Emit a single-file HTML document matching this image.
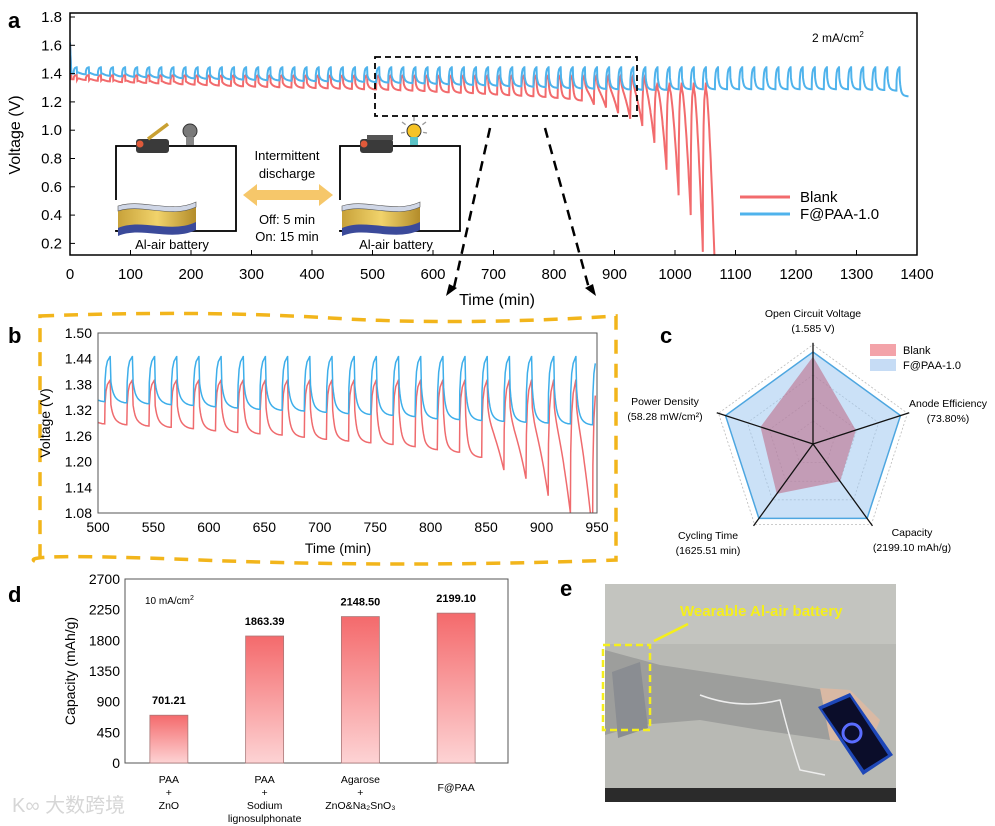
<!DOCTYPE html>
<html><head><meta charset="utf-8"><style>
body{margin:0;background:#fff}
svg{display:block;font-family:"Liberation Sans",Arial,sans-serif}
</style></head><body>
<svg id="fig" width="995" height="826" viewBox="0 0 995 826" xmlns="http://www.w3.org/2000/svg">
<rect width="995" height="826" fill="#fff"/>
<g id="pa"></g>
<g id="pb"></g>
<g id="pc"></g>
<g id="pd"></g>
<g id="pe"></g>
<defs>
<linearGradient id="barg" x1="0" y1="0" x2="0" y2="1"><stop offset="0" stop-color="#f46a6c"/><stop offset="1" stop-color="#fdd3d4"/></linearGradient>
<linearGradient id="batg" x1="0" y1="0" x2="1" y2="0"><stop offset="0" stop-color="#c8a23a"/><stop offset="0.5" stop-color="#f1d36b"/><stop offset="1" stop-color="#b38c2a"/></linearGradient>
</defs>
</svg>
<script>
// ---- Panel a/b data: per-cycle voltage at end of each 15-min discharge (20-min cycles) ----
const blueMin = [1.40,1.395,1.39,1.385,1.38,1.378,1.375,1.372,1.37,1.368,
1.366,1.364,1.362,1.36,1.358,1.356,1.354,1.352,1.35,1.348,
1.347,1.346,1.345,1.344,1.342,1.34,1.337,1.335,1.333,1.331,
1.328,1.325,1.322,1.32,1.318,1.315,1.312,1.31,1.308,1.305,
1.30,1.298,1.296,1.294,1.292,1.29,1.288,1.286,1.285,1.285,
1.29,1.29,1.29,1.29,1.29,1.29,1.29,1.29,1.29,1.29,
1.29,1.29,1.29,1.29,1.29,1.288,1.286,1.284,1.28,1.24];
const redMin = [1.36,1.355,1.35,1.345,1.34,1.337,1.334,1.331,1.328,1.325,
1.322,1.319,1.316,1.313,1.31,1.308,1.306,1.304,1.302,1.30,
1.298,1.296,1.294,1.292,1.29,1.288,1.286,1.283,1.28,1.277,
1.272,1.268,1.265,1.262,1.257,1.252,1.248,1.244,1.24,1.235,
1.228,1.222,1.21,1.18,1.16,1.12,1.08,1.03,0.91,0.72,
0.54,0.40,0.14,0.0];
const bluePeak = [1.445];
const redPeak = [1.39];
const aXTicks = [0,100,200,300,400,500,600,700,800,900,1000,1100,1200,1300,1400];
const aYTicks = [0.2,0.4,0.6,0.8,1.0,1.2,1.4,1.6,1.8];
const bXTicks = [500,550,600,650,700,750,800,850,900,950];
const bYTicks = [1.08,1.14,1.20,1.26,1.32,1.38,1.44,1.50];
// ---- Panel c data ----
const radarAxes = ["Open Circuit Voltage","Anode Efficiency","Capacity","Cycling Time","Power Density"];
const radarBlank = [0.95,0.49,0.50,0.67,0.60];
const radarFPAA = [1,1,1,1,1];
// ---- Panel d data ----
const capCats = ["PAA+ZnO","PAA+Sodium lignosulphonate","Agarose+ZnO&Na2SnO3","F@PAA"];
const capVals = [701.21,1863.39,2148.50,2199.10];
const dYTicks = [0,450,900,1350,1800,2250,2700];

const NS="http://www.w3.org/2000/svg";
function mk(parent,tag,attrs,text){const e=document.createElementNS(NS,tag);for(const k in attrs)e.setAttribute(k,attrs[k]);if(text!==undefined)e.textContent=text;parent.appendChild(e);return e;}

const PH=-9; // discharge of cycle k starts at 20k+PH
function pkOf(m,p){return m<1.0?Math.min(p,1.33):p;}
function cyclePath(mins,peak0,t0,t1,sx,sy,clipLo){
  let pts=[[0,1.62],[1.5,1.47]];
  for(let k=0;k<mins.length;k++){
    const c=k*20+PH; const m=mins[k];
    const deep = m<1.2;
    const s = deep ? 1.29 : m+0.022;
    const pk = k>0 ? pkOf(mins[k-1],peak0) : 1.47;
    const n=24;
    for(let i=0;i<=n;i++){
      const f=i/n; const tt=c+15*f;
      if(tt<2)continue;
      const base = deep ? s+(m-s)*Math.pow(f,1.5) : s+(m-s)*(1-Math.pow(1-f,2));
      const v = i===0 ? pk : base+(pk-0.045-base)*Math.exp(-(15*f)/1.6);
      pts.push([tt,v]);
    }
    if(k<mins.length-1){
      const nk=pkOf(m,peak0);
      pts.push([c+15.3,m+(nk-m)*0.45]);
      pts.push([c+16.2,m+(nk-m)*0.75]);
      pts.push([c+17.5,m+(nk-m)*0.9]);
      pts.push([c+19.9,nk]);
    }
  }
  pts=pts.filter(p=>p[0]>=t0-0.01&&p[0]<=t1+0.01);
  return pts.map((p,i)=>(i?'L':'M')+sx(p[0]).toFixed(1)+','+sy(Math.max(p[1],clipLo)).toFixed(1)).join('');
}

// ================= Panel A =================
(function(){
const g=document.getElementById('pa');
const X0=70,X1=917,Y0=13,Y1=255;
const sx=t=>X0+(t-0)/1400*(X1-X0);
const sy=v=>17+(1.8-v)*141.5;
mk(g,'text',{x:8,y:28,'font-size':22,'font-weight':'bold',},'a');
const clip=mk(g,'clipPath',{id:'clipA'});mk(clip,'rect',{x:X0,y:Y0,width:X1-X0,height:Y1-Y0});
const lines=mk(g,'g',{'clip-path':'url(#clipA)'});
mk(lines,'path',{d:cyclePath(redMin,redPeak[0],0,1080,sx,sy,-0.2),fill:'none',stroke:'#f26b6d','stroke-width':2,});
mk(lines,'path',{d:cyclePath(blueMin,bluePeak[0],0,1400,sx,sy,0),fill:'none',stroke:'#4fb3ec','stroke-width':2,});
mk(g,'rect',{x:X0,y:Y0,width:X1-X0,height:Y1-Y0,fill:'none',stroke:'#000','stroke-width':1.5,});
aXTicks.forEach(t=>{mk(g,'line',{x1:sx(t),x2:sx(t),y1:Y1,y2:Y1-5,stroke:'#000'});mk(g,'text',{x:sx(t),y:279,'font-size':15,'text-anchor':'middle',},t);});
aYTicks.forEach(v=>{mk(g,'line',{x1:X0,x2:X0+5,y1:sy(v),y2:sy(v),stroke:'#000'});mk(g,'text',{x:62,y:sy(v)+5,'font-size':15,'text-anchor':'end',},v.toFixed(1));});
mk(g,'text',{x:497,y:305,'font-size':16,'text-anchor':'middle',},'Time (min)');
mk(g,'text',{x:20,y:135,'font-size':16,'text-anchor':'middle',transform:'rotate(-90 20 135)',},'Voltage (V)');
const cd=mk(g,'text',{x:812,y:42,'font-size':12,},'2 mA/cm');
mk(cd,'tspan',{dy:-5,'font-size':8},'2');
mk(g,'rect',{x:375,y:57,width:262,height:59,fill:'none',stroke:'#000','stroke-width':1.8,'stroke-dasharray':'6,4',});
mk(g,'line',{x1:490,y1:128,x2:453,y2:292,stroke:'#000','stroke-width':2.5,'stroke-dasharray':'10,7'});
mk(g,'line',{x1:545,y1:128,x2:590,y2:292,stroke:'#000','stroke-width':2.5,'stroke-dasharray':'10,7'});
mk(g,'path',{d:'M446,296 L449,284 L457,288 Z',fill:'#000'});
mk(g,'path',{d:'M596,296 L585,288 L593,284 Z',fill:'#000'});
mk(g,'line',{x1:740,x2:790,y1:197,y2:197,stroke:'#f26b6d','stroke-width':3});
mk(g,'text',{x:800,y:202,'font-size':15,},'Blank');
mk(g,'line',{x1:740,x2:790,y1:214,y2:214,stroke:'#4fb3ec','stroke-width':3});
mk(g,'text',{x:800,y:219,'font-size':15,},'F@PAA-1.0');
function circuit(x,lit){
  const c=mk(g,'g',{});
  mk(c,'rect',{x:x,y:146,width:120,height:85,fill:'none',stroke:'#000','stroke-width':1.8});
  mk(c,'rect',{x:x+20,y:139,width:33,height:14,rx:3,fill:'#3a3a3a'});
  mk(c,'circle',{cx:x+24,cy:144,r:3.5,fill:'#e05a3a'});
  if(!lit){mk(c,'line',{x1:x+32,y1:139,x2:x+52,y2:124,stroke:'#c9a032','stroke-width':3.5});}
  else{mk(c,'rect',{x:x+27,y:135,width:26,height:5,fill:'#555'});}
  mk(c,'circle',{cx:x+74,cy:131,r:7,fill:lit?'#f6c325':'#7a7a7a',stroke:'#333'});
  mk(c,'rect',{x:x+70,y:137,width:8,height:8,fill:lit?'#5bc3c6':'#888'});
  if(lit){[[-12,-9],[0,-14],[12,-9],[-13,2],[13,2]].forEach(d=>mk(c,'line',{x1:x+74+d[0]*0.7,y1:131+d[1]*0.7,x2:x+74+d[0],y2:131+d[1],stroke:'#999','stroke-width':1.3}));}
  mk(c,'rect',{x:x-3,y:200,width:6,height:30,fill:'#fff'});
  mk(c,'path',{d:`M${x+2},${218} C${x+25},${210} ${x+55},${226} ${x+80},${214} L${x+80},${230} C${x+55},${242} ${x+25},${226} ${x+2},${236} Z`,fill:'#3b4a9a'});
  mk(c,'path',{d:`M${x+2},${210} C${x+25},${202} ${x+55},${218} ${x+80},${206} L${x+80},${222} C${x+55},${234} ${x+25},${218} ${x+2},${228} Z`,fill:'url(#batg)'});
  mk(c,'path',{d:`M${x+2},${206} C${x+25},${198} ${x+55},${214} ${x+80},${202} L${x+80},${207} C${x+55},${219} ${x+25},${203} ${x+2},${211} Z`,fill:'#cfd6e6',stroke:'#555','stroke-width':0.6});
  mk(c,'text',{x:x+56,y:249,'font-size':13,'text-anchor':'middle'},'Al-air battery');
}
circuit(116,false);circuit(340,true);
mk(g,'path',{d:'M243,195 L257,184 L257,190 L319,190 L319,184 L333,195 L319,206 L319,200 L257,200 L257,206 Z',fill:'#f6c76a',});
mk(g,'text',{x:287,y:160,'font-size':13,'text-anchor':'middle'},'Intermittent');
mk(g,'text',{x:287,y:178,'font-size':13,'text-anchor':'middle'},'discharge');
mk(g,'text',{x:287,y:224,'font-size':13,'text-anchor':'middle'},'Off: 5 min');
mk(g,'text',{x:287,y:241,'font-size':13,'text-anchor':'middle'},'On: 15 min');
})();

// ================= Panel B =================
(function(){
const g=document.getElementById('pb');
const X0=98,X1=597,YT=333,YB=513;
const sx=t=>X0+(t-500)/450*(X1-X0);
const sy=v=>YB-(v-1.08)/0.42*(YB-YT);
mk(g,'text',{x:8,y:343,'font-size':22,'font-weight':'bold',},'b');
mk(g,'path',{d:'M40,316 Q200,310 330,318 T616,316 L616,560 Q400,568 200,560 T40,563 Z',fill:'none',stroke:'#f2b51b','stroke-width':3.5,'stroke-dasharray':'14,10',});
const clip=mk(g,'clipPath',{id:'clipB'});mk(clip,'rect',{x:X0,y:YT,width:X1-X0,height:YB-YT});
const lines=mk(g,'g',{'clip-path':'url(#clipB)'});
mk(lines,'path',{d:cyclePath(redMin,redPeak[0],500,950,sx,sy,1.0),fill:'none',stroke:'#ef6b6e','stroke-width':1.5,});
mk(lines,'path',{d:cyclePath(blueMin,bluePeak[0],500,950,sx,sy,1.0),fill:'none',stroke:'#3daeea','stroke-width':1.5,});
mk(g,'rect',{x:X0,y:YT,width:X1-X0,height:YB-YT,fill:'none',stroke:'#555','stroke-width':1,});
bXTicks.forEach(t=>mk(g,'text',{x:sx(t),y:532,'font-size':14,'text-anchor':'middle',},t));
bYTicks.forEach(v=>mk(g,'text',{x:92,y:sy(v)+5,'font-size':14,'text-anchor':'end',},v.toFixed(2)));
mk(g,'text',{x:338,y:553,'font-size':14,'text-anchor':'middle',},'Time (min)');
mk(g,'text',{x:50,y:423,'font-size':14,'text-anchor':'middle',transform:'rotate(-90 50 423)',},'Voltage (V)');
})();

// ================= Panel C =================
(function(){
const g=document.getElementById('pc');
const cx=813,cy=444,R=92;
mk(g,'text',{x:660,y:343,'font-size':22,'font-weight':'bold',},'c');
const ang=i=>-Math.PI/2+i*2*Math.PI/5;
const pt=(i,r)=>[cx+r*Math.cos(ang(i)),cy+r*Math.sin(ang(i))];
[0.25,0.5,0.75,1.08].forEach(f=>mk(g,'polygon',{points:radarAxes.map((a,i)=>pt(i,R*f).join(',')).join(' '),fill:'none',stroke:'#bbb','stroke-dasharray':'2,2','stroke-width':0.8}));
mk(g,'polygon',{points:radarFPAA.map((v,i)=>pt(i,R*v).join(',')).join(' '),fill:'rgba(160,200,240,0.55)',stroke:'#4da6e0','stroke-width':1.5,});
mk(g,'polygon',{points:radarBlank.map((v,i)=>pt(i,R*v).join(',')).join(' '),fill:'rgba(190,100,130,0.55)',stroke:'none',});
radarAxes.forEach((a,i)=>{const p=pt(i,R*1.1);mk(g,'line',{x1:cx,y1:cy,x2:p[0],y2:p[1],stroke:'#111','stroke-width':1.3});});
const L=[["Open Circuit Voltage","(1.585 V)",813,317,'middle'],["Anode Efficiency","(73.80%)",948,407,'middle'],["Capacity","(2199.10 mAh/g)",912,536,'middle'],["Cycling Time","(1625.51 min)",708,539,'middle'],["Power Density","(58.28 mW/cm²)",665,405,'middle']];
L.forEach(l=>{mk(g,'text',{x:l[2],y:l[3],'font-size':10.5,'text-anchor':l[4],},l[0]);mk(g,'text',{x:l[2],y:l[3]+15,'font-size':10.5,'text-anchor':l[4]},l[1]);});
mk(g,'rect',{x:870,y:344,width:26,height:12,fill:'#f3a3a9'});
mk(g,'text',{x:903,y:354,'font-size':11,},'Blank');
mk(g,'rect',{x:870,y:359,width:26,height:12,fill:'#c6dcf5'});
mk(g,'text',{x:903,y:369,'font-size':11,},'F@PAA-1.0');
})();

// ================= Panel D =================
(function(){
const g=document.getElementById('pd');
const X0=125,X1=508,YT=579,YB=763;
const sy=v=>YB-v/2700*(YB-YT);
const bw=(X1-X0)/4;
mk(g,'text',{x:8,y:602,'font-size':22,'font-weight':'bold',},'d');
mk(g,'rect',{x:X0,y:YT,width:X1-X0,height:YB-YT,fill:'none',stroke:'#555',});
dYTicks.forEach(v=>mk(g,'text',{x:120,y:sy(v)+5,'font-size':14,'text-anchor':'end',},v));
mk(g,'text',{x:75,y:671,'font-size':14,'text-anchor':'middle',transform:'rotate(-90 75 671)',},'Capacity (mAh/g)');
const cd=mk(g,'text',{x:145,y:604,'font-size':10},'10 mA/cm');mk(cd,'tspan',{dy:-4,'font-size':7},'2');
capVals.forEach((v,i)=>{
  const cx=X0+bw*(i+0.5)-4;
  const b=mk(g,'rect',{x:cx-19,y:sy(v),width:38,height:YB-sy(v),fill:'url(#barg)',stroke:'#a77','stroke-width':0.8});
  
  
  mk(g,'text',{x:cx,y:sy(v)-11,'font-size':11,'font-weight':'bold','text-anchor':'middle',},v.toFixed(2));
});
const lab=[["PAA","+","ZnO"],["PAA","+","Sodium","lignosulphonate"],["Agarose","+","ZnO&Na₂SnO₃"],["F@PAA"]];
lab.forEach((ls,i)=>{const cx=X0+bw*(i+0.5)-4;const y0=i===3?791:783;ls.forEach((s,j)=>mk(g,'text',{x:cx,y:y0+j*13,'font-size':10.5,'text-anchor':'middle',},s));});
mk(g,'text',{x:12,y:812,'font-size':20,fill:'#d6d6d6','font-family':'"Liberation Sans","Noto Sans CJK SC",sans-serif',},'K∞ 大数跨境');
})();

// ================= Panel E =================
(function(){
const g=document.getElementById('pe');
mk(g,'text',{x:560,y:596,'font-size':22,'font-weight':'bold',},'e');
mk(g,'rect',{x:605,y:584,width:291,height:218,fill:'#b8b9b4',});
mk(g,'rect',{x:605,y:584,width:291,height:60,fill:'#c3c4bf'});
mk(g,'rect',{x:605,y:788,width:291,height:14,fill:'#2b2b2b'});
mk(g,'path',{d:'M605,650 L660,665 L760,680 L825,690 L860,720 L830,740 L760,730 L700,720 L640,725 L605,735 Z',fill:'#9d9e9c'});
mk(g,'path',{d:'M820,688 L850,690 L880,720 L870,745 L830,740 Z',fill:'#d9b9a4'});
mk(g,'path',{d:'M818,707 L850,693 L893,755 L863,775 Z',fill:'#1e47b8'});
mk(g,'path',{d:'M822,709 L850,697 L888,755 L864,770 Z',fill:'#0b0d2a'});
mk(g,'circle',{cx:852,cy:733,r:9,fill:'none',stroke:'#5a6cff','stroke-width':3});
mk(g,'path',{d:'M612,672 L640,662 L648,728 L618,738 Z',fill:'#8a8d92'});
mk(g,'path',{d:'M700,695 Q740,710 780,700 Q790,740 800,770 L825,775',fill:'none',stroke:'#eee','stroke-width':1.5});
mk(g,'rect',{x:603,y:645,width:47,height:85,fill:'none',stroke:'#f5ef1b','stroke-width':2.5,'stroke-dasharray':'7,4',});
mk(g,'line',{x1:654,y1:641,x2:688,y2:624,stroke:'#f5ef1b','stroke-width':2.5});
mk(g,'text',{x:680,y:616,'font-size':15,'font-weight':'bold',fill:'#f5ef1b',},'Wearable Al-air battery');
})();
</script>
</body></html>
